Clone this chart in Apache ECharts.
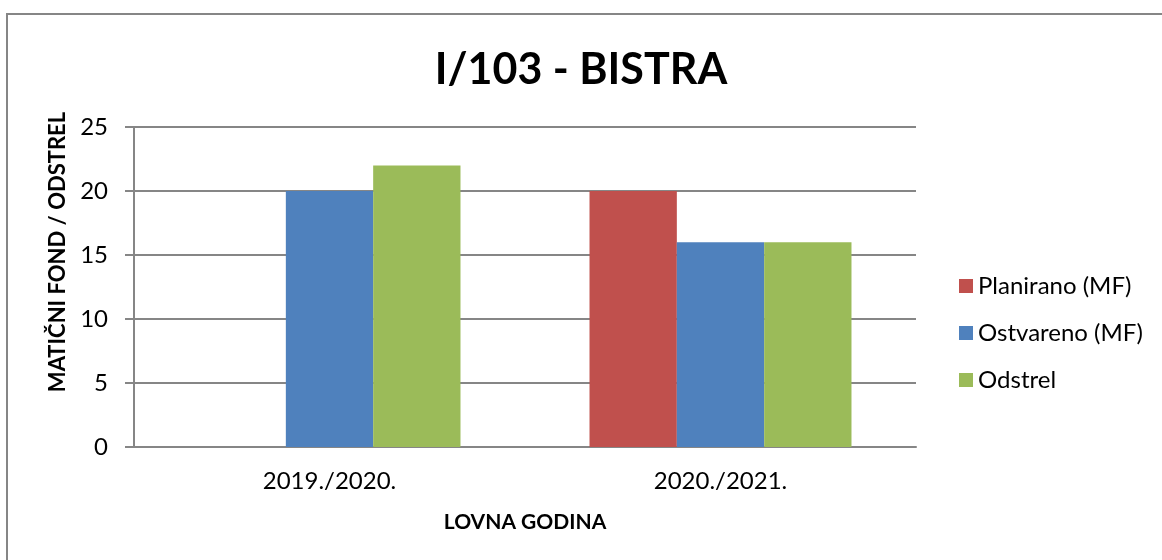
<!DOCTYPE html>
<html>
<head>
<meta charset="utf-8">
<script src="https://cdn.jsdelivr.net/npm/echarts@6/dist/echarts.min.js"></script>
<style>
  html, body { margin: 0; padding: 0; background: #fff; }
  #chart { width: 1162px; height: 560px; }
</style>
</head>
<body>
<div id="chart"></div>
<script>
const categories = ['2019./2020.', '2020./2021.']
const planirano = [0, 20]
const ostvareno = [20, 16]
const odstrel = [22, 16]

const font = 'Lato, "Open Sans", sans-serif'
const gridColor = '#868686'

const chart = echarts.init(document.getElementById('chart'))

function barSeries(name, data, color) {
  return {
    name,
    type: 'bar',
    data,
    barGap: '0%',
    barCategoryGap: '33%',
    itemStyle: { color },
    emphasis: { disabled: true },
  }
}

chart.setOption({
  animation: false,
  textStyle: { fontFamily: font },
  graphic: [
    {
      type: 'rect',
      shape: { x: 7, y: 14, width: 1200, height: 600 },
      style: { fill: 'none', stroke: gridColor, lineWidth: 2 },
      z: -1,
    },
  ],
  title: {
    text: 'I/103 - BISTRA',
    left: 'center',
    top: 44,
    textStyle: { fontFamily: font, fontSize: 43, fontWeight: 'bold', color: '#000' },
  },
  legend: {
    orient: 'vertical',
    left: 954,
    top: 269,
    itemWidth: 14,
    itemHeight: 14,
    itemGap: 23,
    itemTextGap: 7,
    icon: 'rect',
    textStyle: { fontFamily: font, fontSize: 24, lineHeight: 24, color: '#000' },
    data: ['Planirano (MF)', 'Ostvareno (MF)', 'Odstrel'],
  },
  grid: { left: 134, right: 246, top: 127, bottom: 113 },
  xAxis: {
    type: 'category',
    data: categories,
    name: 'LOVNA GODINA',
    nameLocation: 'middle',
    nameGap: 65,
    nameTextStyle: { fontFamily: font, fontSize: 21, fontWeight: 'bold', color: '#000' },
    axisLine: { lineStyle: { color: gridColor, width: 2 } },
    axisTick: { alignWithLabel: true, length: 6, lineStyle: { color: gridColor, width: 2 } },
    axisLabel: { fontFamily: font, fontSize: 24, color: '#000', margin: 22 },
  },
  yAxis: {
    type: 'value',
    min: 0,
    max: 25,
    interval: 5,
    name: 'MATIČNI FOND / ODSTREL',
    nameLocation: 'middle',
    nameRotate: 90,
    nameGap: 59,
    nameTextStyle: {
      fontFamily: font, fontSize: 22, fontWeight: 'bold', color: '#000',
      padding: [0, 0, 0, 70],
    },
    axisLine: { show: true, lineStyle: { color: gridColor, width: 2 } },
    axisTick: { show: true, length: 9, lineStyle: { color: gridColor, width: 2 } },
    axisLabel: { fontFamily: font, fontSize: 24, color: '#000', margin: 26 },
    splitLine: { lineStyle: { color: gridColor, width: 2 } },
  },
  series: [
    barSeries('Planirano (MF)', planirano, '#C0504D'),
    barSeries('Ostvareno (MF)', ostvareno, '#4F81BD'),
    barSeries('Odstrel', odstrel, '#9BBB59'),
  ],
})
</script>
</body>
</html>
